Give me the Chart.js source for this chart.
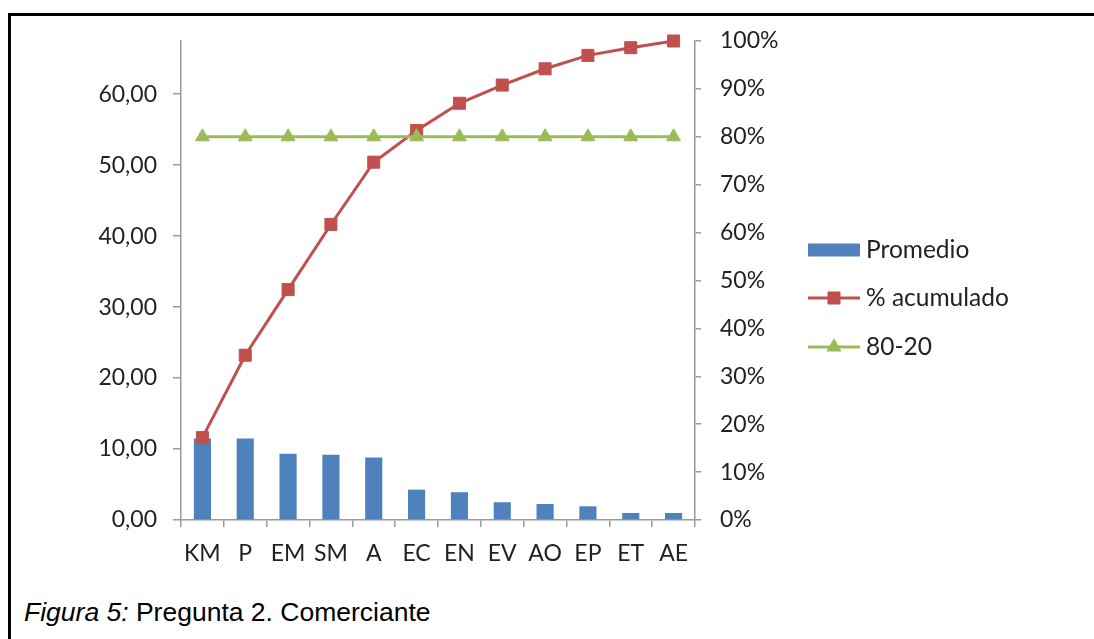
<!DOCTYPE html>
<html>
<head>
<meta charset="utf-8">
<script src="https://cdn.jsdelivr.net/npm/chart.js@4/dist/chart.umd.min.js"></script>
<style>
  html, body { margin: 0; padding: 0; background: #fff; width: 1094px; height: 639px; overflow: hidden; }
  #frame { position: absolute; left: 8px; top: 13px; width: 1200px; height: 700px;
           border-left: 3px solid #000; border-top: 3px solid #000; }
  #wrap { position: absolute; left: 0; top: 0; width: 1094px; height: 595px; }
  #caption { position: absolute; left: 24px; top: 597px; white-space: nowrap; color: #000;
             font-family: "Liberation Sans", Arial, sans-serif; font-size: 26.5px; line-height: 30px; }
</style>
</head>
<body>
<div id="frame"></div>
<div id="wrap"><canvas id="c"></canvas></div>
<div id="caption"><i>Figura 5:</i> Pregunta 2. Comerciante</div>
<script>
// Categories and series
const categories = ['KM', 'P', 'EM', 'SM', 'A', 'EC', 'EN', 'EV', 'AO', 'EP', 'ET', 'AE'];
const promedio   = [11.48, 11.48, 9.32, 9.18, 8.80, 4.28, 3.91, 2.50, 2.26, 1.93, 0.99, 0.99];
const acumulado  = [17.2, 34.4, 48.1, 61.7, 74.7, 81.3, 87.0, 90.8, 94.2, 97.0, 98.6, 100];
const regla8020  = [80, 80, 80, 80, 80, 80, 80, 80, 80, 80, 80, 80];

// Axis ranges
const leftMax = 67.5;
const leftStep = 10;
const rightMax = 100;
const rightStep = 10;

const FONT = 'Lato, "Open Sans", sans-serif';
const TEXT = '#222';
const AXIS = '#9a9a9a';

// Legend drawn at the right of the plot: bar swatch / line-with-marker swatches
const sideLegend = {
  id: 'sideLegend',
  afterDraw(chart) {
    const ctx = chart.ctx;
    const x0 = 808, w = 52, tx = 866;
    const rows = [250, 298, 347];
    ctx.save();
    chart.data.datasets.forEach((ds, i) => {
      const y = rows[i];
      if (ds.type === 'bar') {
        ctx.fillStyle = ds.backgroundColor;
        ctx.fillRect(x0, y - 6.5, w, 13);
      } else {
        ctx.strokeStyle = ds.borderColor;
        ctx.lineWidth = ds.borderWidth;
        ctx.beginPath();
        ctx.moveTo(x0, y);
        ctx.lineTo(x0 + w, y);
        ctx.stroke();
        ctx.fillStyle = ds.pointBackgroundColor;
        ctx.strokeStyle = ds.pointBorderColor;
        ctx.lineWidth = ds.pointBorderWidth;
        Chart.helpers.drawPoint(ctx, {
          pointStyle: ds.pointStyle, radius: ds.pointRadius,
          borderWidth: ds.pointBorderWidth, rotation: 0
        }, x0 + w / 2, y);
      }
      ctx.fillStyle = TEXT;
      ctx.font = '24.5px ' + FONT;
      ctx.textBaseline = 'middle';
      ctx.textAlign = 'left';
      ctx.fillText(ds.label, tx, y);
    });
    ctx.restore();
  }
};

new Chart(document.getElementById('c'), {
  type: 'bar',
  data: {
    labels: categories,
    datasets: [
      {
        type: 'bar', label: 'Promedio', data: promedio, yAxisID: 'y',
        backgroundColor: '#4F81BD', borderWidth: 0,
        barPercentage: 0.4, categoryPercentage: 1.0, order: 3
      },
      {
        type: 'line', label: '% acumulado', data: acumulado, yAxisID: 'y1',
        borderColor: '#C0504D', borderWidth: 3, tension: 0, clip: false,
        pointStyle: 'rect', pointRadius: 8.5,
        pointBackgroundColor: '#C0504D', pointBorderColor: '#C0504D', pointBorderWidth: 1,
        order: 2
      },
      {
        type: 'line', label: '80-20', data: regla8020, yAxisID: 'y1',
        borderColor: '#9BBB59', borderWidth: 3, tension: 0, clip: false,
        pointStyle: 'triangle', pointRadius: 8,
        pointBackgroundColor: '#9BBB59', pointBorderColor: '#9BBB59', pointBorderWidth: 1,
        order: 1
      }
    ]
  },
  options: {
    responsive: true,
    maintainAspectRatio: false,
    animation: false,
    events: [],
    layout: { padding: { left: 20, right: 299, top: 41, bottom: 25 } },
    plugins: { legend: { display: false }, tooltip: { enabled: false } },
    scales: {
      x: {
        offset: true,
        afterFit(s) { s.height = 50; },
        border: { color: AXIS, width: 1.5 },
        grid: { display: true, drawOnChartArea: false, drawTicks: true, tickLength: 7,
                color: AXIS, lineWidth: 1.5, offset: true },
        ticks: { color: TEXT, font: { family: FONT, size: 23 }, padding: 13, maxRotation: 0, autoSkip: false }
      },
      y: {
        position: 'left', min: 0, max: leftMax,
        afterFit(s) { s.width = 161; },
        border: { color: AXIS, width: 1.5 },
        grid: { drawOnChartArea: false, drawTicks: true, tickLength: 8, color: AXIS, lineWidth: 1.5 },
        ticks: {
          stepSize: leftStep, includeBounds: false, color: TEXT, padding: 16,
          font: { family: FONT, size: 23 },
          callback: v => v.toFixed(2).replace('.', ',')
        }
      },
      y1: {
        position: 'right', min: 0, max: rightMax,
        afterFit(s) { s.width = 100; },
        border: { color: AXIS, width: 1.5 },
        grid: { drawOnChartArea: false, drawTicks: true, tickLength: 6, color: AXIS, lineWidth: 1.5 },
        ticks: {
          stepSize: rightStep, color: TEXT, padding: 19,
          font: { family: FONT, size: 23 },
          callback: v => v + '%'
        }
      }
    }
  },
  plugins: [sideLegend]
});
</script>
</body>
</html>
